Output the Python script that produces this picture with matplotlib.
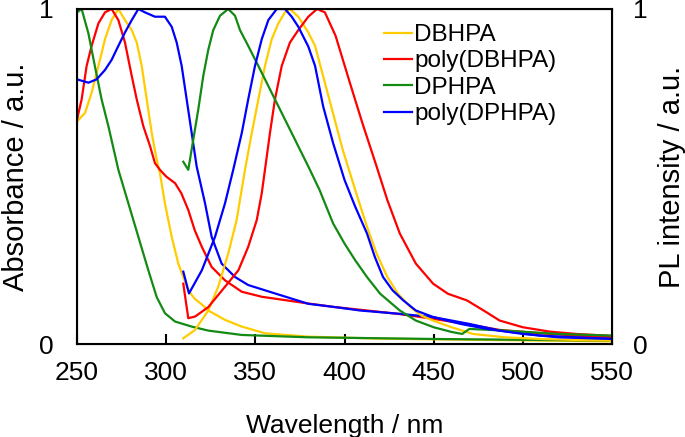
import matplotlib
matplotlib.use("Agg")
import matplotlib.pyplot as plt

plt.rcParams["font.family"] = ["Liberation Sans", "DejaVu Sans"]
plt.rcParams["font.size"] = 19

# DBHPA
dbhpa_abs_x = [250, 254.5, 258.2, 262, 265.7, 269.4, 273.2, 276.9, 280.7, 283.5, 286.3, 289.1, 291.9, 294.7,
               296.5, 299.3, 303.1, 306.8, 312.4, 316, 320, 323.6, 333, 342.4, 355.4, 379.5, 420, 480, 550]
dbhpa_abs_y = [0.664, 0.69, 0.75, 0.83, 0.91, 0.967, 1.0, 0.967, 0.937, 0.9, 0.83, 0.73, 0.63, 0.55,
               0.51, 0.42, 0.32, 0.24, 0.16, 0.135, 0.118, 0.1, 0.072, 0.052, 0.032, 0.022, 0.016, 0.012, 0.008]
dbhpa_pl_x = [309.6, 316.2, 323.6, 329.2, 334.8, 339.5, 344.2, 348, 351.7, 355.4, 359.2, 362.9, 366.6, 369.4,
              374.1, 379.7, 383.5, 390, 395, 399, 406, 412.6, 418, 424, 430, 437, 443, 449.7, 460, 472, 490,
              510, 530, 550]
dbhpa_pl_y = [0.017, 0.042, 0.1, 0.171, 0.27, 0.37, 0.52, 0.63, 0.73, 0.83, 0.91, 0.957, 0.99, 1.0,
              0.977, 0.93, 0.89, 0.76, 0.66, 0.58, 0.46, 0.35, 0.27, 0.2, 0.15, 0.11, 0.085, 0.07, 0.05, 0.03,
              0.02, 0.015, 0.012, 0.01]

# poly(DBHPA)
pdbhpa_abs_x = [250, 252.6, 255.4, 258.2, 262, 265.7, 269.4, 273.2, 276.9, 280.7, 283.5, 287.2, 291, 293.7,
                296.5, 300, 305, 308.5, 312.4, 316, 320, 325.5, 333, 342.4, 353.6, 366.6, 379.5, 395, 412.6,
                430, 450, 470, 487, 510, 530, 550]
pdbhpa_abs_y = [0.67, 0.73, 0.83, 0.89, 0.957, 0.99, 1.0, 0.967, 0.9, 0.8, 0.73, 0.65, 0.59, 0.54,
                0.52, 0.5, 0.48, 0.45, 0.4, 0.34, 0.29, 0.23, 0.19, 0.156, 0.141, 0.131, 0.121, 0.11, 0.1,
                0.09, 0.075, 0.058, 0.042, 0.032, 0.025, 0.02]
pdbhpa_pl_x = [309.6, 312.4, 316.2, 323.6, 333, 340.5, 346, 350.8, 353.6, 355.4, 358.2, 361, 364.8, 369.4,
               374.1, 379.7, 384.6, 389, 395, 403, 410, 418, 424, 431, 440, 449.7, 458, 468.7, 478, 487,
               500, 515, 530, 550]
pdbhpa_pl_y = [0.18, 0.077, 0.082, 0.11, 0.171, 0.22, 0.29, 0.37, 0.45, 0.52, 0.63, 0.73, 0.83, 0.9,
               0.937, 0.977, 1.0, 0.99, 0.92, 0.78, 0.66, 0.53, 0.43, 0.33, 0.24, 0.18, 0.15, 0.13, 0.1, 0.07,
               0.05, 0.037, 0.03, 0.024]

# DPHPA
dphpa_abs_x = [250, 252.6, 256.4, 260, 263.8, 267.6, 273.2, 278.8, 284.4, 290, 294.7, 299.3, 305, 314.3,
               323.6, 342.4, 379.5, 450, 550]
dphpa_abs_y = [0.99, 1.0, 0.927, 0.83, 0.73, 0.65, 0.52, 0.42, 0.32, 0.22, 0.14, 0.092, 0.067, 0.052,
               0.04, 0.027, 0.02, 0.015, 0.01]
dphpa_pl_x = [309.6, 312.4, 315.2, 318, 320.8, 323.6, 326.4, 330.2, 334.8, 338.6, 341.4, 346, 351.7, 357.3,
              362.9, 368.5, 374.1, 379.7, 386, 393.6, 400, 406, 412.6, 420, 431, 440, 450, 460, 466, 470,
              490, 520, 550]
dphpa_pl_y = [0.544, 0.52, 0.61, 0.7, 0.8, 0.878, 0.937, 0.98, 1.0, 0.98, 0.937, 0.89, 0.83, 0.77,
              0.71, 0.65, 0.59, 0.53, 0.46, 0.36, 0.3, 0.25, 0.2, 0.15, 0.1, 0.07, 0.05, 0.036, 0.03, 0.045,
              0.04, 0.03, 0.025]

# poly(DPHPA)
pdphpa_abs_x = [250, 256.4, 261, 265.7, 269.4, 273.2, 276.9, 280.7, 284.4, 288.1, 293.7, 299.3, 303.1,
                305.9, 308.7, 311.5, 314.3, 317.1, 321.8, 325.5, 331.1, 338.6, 346, 361, 379.7, 395, 408.7,
                431, 450, 470, 487, 510, 550]
pdphpa_abs_y = [0.79, 0.78, 0.79, 0.818, 0.848, 0.89, 0.93, 0.967, 1.0, 0.99, 0.977, 0.977, 0.947,
                0.9, 0.83, 0.73, 0.63, 0.53, 0.42, 0.32, 0.24, 0.2, 0.176, 0.151, 0.12, 0.11, 0.1,
                0.09, 0.08, 0.06, 0.04, 0.025, 0.015]
pdphpa_pl_x = [309.6, 312.8, 320, 327.4, 333, 337.6, 342.4, 346, 349.8, 353.6, 357.3, 362, 366.6, 370.4,
               374.1, 379.7, 383.5, 388, 393.6, 400, 406, 412.6, 417, 421.6, 427, 433, 440, 450, 465, 480,
               500, 520, 550]
pdphpa_pl_y = [0.216, 0.151, 0.22, 0.32, 0.42, 0.52, 0.63, 0.73, 0.83, 0.91, 0.967, 1.0, 1.0, 0.977,
               0.947, 0.888, 0.83, 0.71, 0.6, 0.49, 0.41, 0.33, 0.26, 0.2, 0.16, 0.13, 0.1, 0.08, 0.06, 0.045,
               0.03, 0.02, 0.015]

yellow = "#ffcc00"
red = "#ff0000"
green = "#138a13"
blue = "#0000ff"
lw = 1.6

fig = plt.figure(figsize=(6.85, 4.37), dpi=100)
ax = fig.add_axes([77 / 685, 93 / 437, 535 / 685, 335 / 437])

ax.plot(dbhpa_abs_x, dbhpa_abs_y, color=yellow, lw=lw, label="DBHPA")
ax.plot(pdbhpa_abs_x, pdbhpa_abs_y, color=red, lw=lw, label="poly(DBHPA)")
ax.plot(dphpa_abs_x, dphpa_abs_y, color=green, lw=lw, label="DPHPA")
ax.plot(pdphpa_abs_x, pdphpa_abs_y, color=blue, lw=lw, label="poly(DPHPA)")
ax.plot(dbhpa_pl_x, dbhpa_pl_y, color=yellow, lw=lw)
ax.plot(pdbhpa_pl_x, pdbhpa_pl_y, color=red, lw=lw)
ax.plot(dphpa_pl_x, dphpa_pl_y, color=green, lw=lw)
ax.plot(pdphpa_pl_x, pdphpa_pl_y, color=blue, lw=lw)

ax.set_xlim(250, 550)
ax.set_ylim(0, 1)
ax.set_xticks([250, 300, 350, 400, 450, 500, 550])
ax.set_yticks([0, 1])
ax.set_yticklabels(["0", "1"])
ax.tick_params(axis="x", direction="in", length=7, width=1.5, pad=12)
ax.tick_params(axis="y", direction="in", length=0, pad=17)
for s in ax.spines.values():
    s.set_linewidth(1.5)
ax.set_xlabel("Wavelength / nm")
ax.xaxis.set_label_coords(0.5, -0.208)
ax.set_ylabel("Absorbance / a.u.", fontsize=21)
ax.yaxis.set_label_coords(-0.088, 0.5)

ax2 = ax.twinx()
ax2.set_ylim(0, 1)
ax2.set_yticks([0, 1])
ax2.set_yticklabels(["0", "1"])
ax2.tick_params(axis="y", direction="in", length=0, pad=15)
ax2.set_ylabel("PL intensity / a.u.", fontsize=21)
ax2.yaxis.set_label_coords(1.086, 0.5)

ax.legend(loc="upper left", bbox_to_anchor=(0.574, 0.955), frameon=False, fontsize=17.5,
          handlelength=1.15, handletextpad=0.08, labelspacing=0.18, borderpad=0, borderaxespad=0)

fig.savefig("out.png", dpi=100)
